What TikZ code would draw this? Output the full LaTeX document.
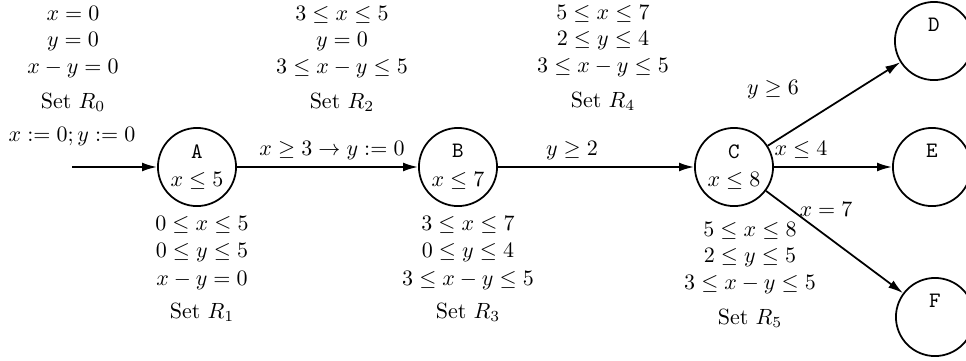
\documentclass[tikz,border=0pt]{standalone}
\usepackage{amssymb}
\usetikzlibrary{arrows.meta}
\tikzset{
  state/.style={circle, draw, line width=0.8pt, minimum size=35.5pt, inner sep=0pt, align=center},
  conn/.style={line width=0.8pt, -{Latex[length=6.8pt,width=4pt]}},
  block/.style={align=center, inner sep=0pt},
  elabel/.style={inner sep=0pt}
}
\begin{document}
\begin{tikzpicture}[x=0.4545pt,y=-0.4545pt]
\useasboundingbox (0,0) rectangle (966,360);
% states
\node[state] (A) at (197,167) {\texttt{A}\\[1pt] $x\le 5$};
\node[state] (B) at (458,167) {\texttt{B}\\[1pt] $x\le 7$};
\node[state] (C) at (734,167) {\texttt{C}\\[1pt] $x\le 8$};
\node[state] (D) at (934,41)  {\texttt{D}\\[1pt] \phantom{$x\le 8$}};
\node[state] (E) at (932,167) {\texttt{E}\\[1pt] \phantom{$x\le 8$}};
\node[state] (F) at (935,317) {\texttt{F}\\[1pt] \phantom{$x\le 8$}};
\coordinate (init) at (72,167);
% connectors
\draw[conn] (init) -- (A);
\draw[conn] (A) -- (B);
\draw[conn] (B) -- (C);
\draw[conn] (C) -- (D);
\draw[conn] (C) -- (E);
\draw[conn] (C) -- (F);
% connector labels
\node[elabel] (l0) at (72,137) {$x:=0; y:=0$};
\node[elabel] (l1) at (332,151) {$x\ge 3\rightarrow y:=0$};
\node[elabel] (l2) at (572,151) {$y\ge 2$};
\node[elabel] (l3) at (801,150) {$x\le 4$};
\node[elabel] (l4) at (773,90) {$y\ge 6$};
\node[elabel] (l5) at (826,209) {$x=7$};
% region sets
\node[block] (R0) at (73,59)  {$x=0$\\ $y=0$\\ $x-y=0$\\[4pt] Set $R_0$};
\node[block] (R2) at (342,59) {$3\le x\le 5$\\ $y=0$\\ $3\le x-y\le 5$\\[4pt] Set $R_2$};
\node[block] (R4) at (603,58) {$5\le x\le 7$\\ $2\le y\le 4$\\ $3\le x-y\le 5$\\[4pt] Set $R_4$};
\node[block] (R1) at (202,269) {$0\le x\le 5$\\[0.6pt] $0\le y\le 5$\\[0.6pt] $x-y=0$\\[3pt] Set $R_1$};
\node[block] (R3) at (468,269) {$3\le x\le 7$\\[0.6pt] $0\le y\le 4$\\[0.6pt] $3\le x-y\le 5$\\[3pt] Set $R_3$};
\node[block] (R5) at (750,275) {$5\le x\le 8$\\ $2\le y\le 5$\\ $3\le x-y\le 5$\\[4pt] Set $R_5$};
\end{tikzpicture}
\end{document}
